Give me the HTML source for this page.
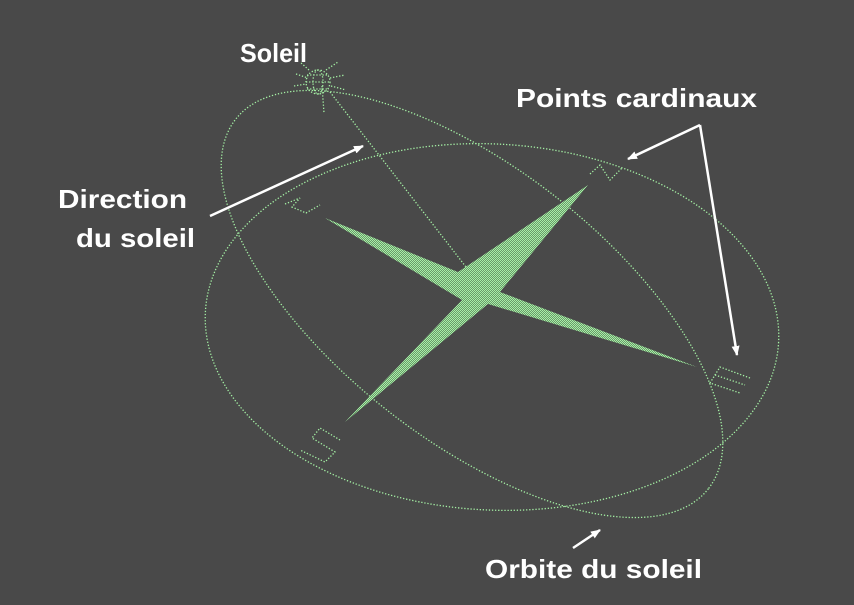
<!DOCTYPE html>
<html><head><style>
html,body{margin:0;padding:0;background:#494949;}
svg{display:block}
text{font-family:"Liberation Sans",sans-serif;font-weight:bold;fill:#fff;font-size:26px}
</style></head><body>
<svg width="854" height="605" viewBox="0 0 854 605">
<rect width="854" height="605" fill="#494949"/>
<defs>
<pattern id="chk" width="2" height="2" patternUnits="userSpaceOnUse">
<rect width="2" height="2" fill="#6a9a6a"/><rect width="1" height="1" fill="#a8f0a8"/><rect x="1" y="1" width="1" height="1" fill="#a8f0a8"/>
</pattern>
<marker id="ah" markerWidth="10" markerHeight="8" refX="9" refY="4" orient="auto" markerUnits="userSpaceOnUse"><path d="M0,0 L10,4 L0,8 z" fill="#fff"/></marker>
</defs>
<g fill="none" stroke="#a4f0a4" stroke-width="1.3" stroke-dasharray="1.3 1.8">
<ellipse cx="492" cy="327" rx="287" ry="183" transform="rotate(3 492 327)"/>
<ellipse cx="472" cy="304" rx="300" ry="136" transform="rotate(38 472 304)"/>
<line x1="330" y1="92" x2="480" y2="285"/>
<!-- sun -->
<circle cx="318" cy="82" r="12"/>
<ellipse cx="318" cy="82" rx="5" ry="12"/>
<line x1="306" y1="82" x2="330" y2="82"/>
<line x1="307" y1="75" x2="329" y2="75"/><line x1="307" y1="89" x2="329" y2="89"/>
<line x1="322" y1="86" x2="324" y2="113"/>
<line x1="296" y1="74" x2="308" y2="78"/><line x1="294" y1="86" x2="306" y2="84"/>
<line x1="330" y1="78" x2="345" y2="75"/><line x1="331" y1="86" x2="346" y2="90"/>
<line x1="326" y1="70" x2="338" y2="62"/><line x1="309" y1="70" x2="300" y2="62"/>
<!-- N -->
<polyline points="590,174 600,165 610,180 622,168"/>
<!-- W -->
<polyline points="285,204 300,198 292,207 306,213 320,205"/>
<!-- S -->
<polyline points="340,440 320,428 312,438 335,452 325,462 300,450"/>
<!-- E -->
<polyline points="750,378 720,367 710,383 740,393"/>
<line x1="715" y1="375" x2="745" y2="385"/>
</g>
<path d="M325,218 L458,272 L588,185 L500,292 L697,367 L488,304 L345,422 L462,300 Z" fill="url(#chk)"/>
<g stroke="#fff" stroke-width="2.5" fill="none" marker-end="url(#ah)">
<line x1="210" y1="216" x2="363" y2="146"/>
<line x1="700" y1="125" x2="628" y2="159"/>
<line x1="700" y1="125" x2="737" y2="355"/>
<line x1="573" y1="548" x2="600" y2="530"/>
</g>
<text x="240" y="62" textLength="67" lengthAdjust="spacingAndGlyphs">Soleil</text>
<text x="516" y="107" textLength="241" lengthAdjust="spacingAndGlyphs">Points cardinaux</text>
<text x="58" y="208" textLength="129" lengthAdjust="spacingAndGlyphs">Direction</text>
<text x="76" y="247" textLength="119" lengthAdjust="spacingAndGlyphs">du soleil</text>
<text x="485" y="578" textLength="217" lengthAdjust="spacingAndGlyphs">Orbite du soleil</text>
</svg>
</body></html>
